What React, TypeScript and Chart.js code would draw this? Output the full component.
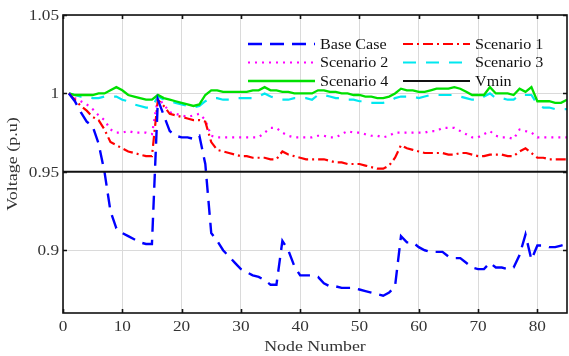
import React, { useEffect, useRef } from "react";
import { Chart, registerables } from "chart.js";

Chart.register(...registerables);

const nodes: number[] = Array.from({ length: 85 }, (_, i) => i + 1);

const baseCase = [
  1.0, 0.995, 0.988, 0.982, 0.979, 0.968, 0.95, 0.925, 0.914, 0.911,
  0.909, 0.907, 0.905, 0.904, 0.904, 0.996, 0.986, 0.976, 0.973, 0.972,
  0.972, 0.971, 0.973, 0.955, 0.911, 0.906, 0.9, 0.896, 0.892, 0.888,
  0.886, 0.884, 0.883, 0.881, 0.878, 0.878, 0.906, 0.9, 0.89, 0.884,
  0.884, 0.884, 0.883, 0.879, 0.877, 0.877, 0.876, 0.876, 0.876, 0.875,
  0.874, 0.873, 0.872, 0.871, 0.873, 0.877, 0.909, 0.905, 0.905, 0.902,
  0.9, 0.899, 0.899, 0.899, 0.896, 0.895, 0.895, 0.892, 0.889, 0.888,
  0.888, 0.892, 0.889, 0.889, 0.888, 0.889, 0.897, 0.91, 0.894, 0.903,
  0.903, 0.902, 0.902, 0.903, 0.904,
];

const scenario1 = [
  1.0, 0.996, 0.992, 0.989, 0.985, 0.983, 0.977, 0.969, 0.967, 0.965,
  0.963, 0.962, 0.961, 0.96, 0.96, 0.996, 0.992, 0.987, 0.986, 0.985,
  0.984, 0.983, 0.983, 0.982, 0.969, 0.964, 0.963, 0.962, 0.961, 0.96,
  0.96, 0.959, 0.959, 0.959, 0.958, 0.958, 0.963, 0.961, 0.96, 0.959,
  0.958, 0.958, 0.958, 0.958, 0.957, 0.956, 0.956, 0.955, 0.955, 0.955,
  0.954, 0.953, 0.952, 0.952, 0.954, 0.959, 0.967, 0.965, 0.964, 0.963,
  0.962, 0.962, 0.962, 0.962, 0.961, 0.961, 0.962, 0.962, 0.961, 0.96,
  0.96, 0.961, 0.961, 0.961, 0.96, 0.96, 0.963, 0.965, 0.962, 0.959,
  0.959, 0.958, 0.958, 0.958, 0.958,
];

const scenario2 = [
  1.0, 0.997, 0.995, 0.993, 0.99, 0.986, 0.983, 0.977, 0.975, 0.975,
  0.976, 0.975, 0.975, 0.975, 0.974, 0.997, 0.993, 0.988, 0.987, 0.986,
  0.985, 0.986, 0.987, 0.983, 0.973, 0.972, 0.972, 0.972, 0.972, 0.972,
  0.972, 0.972, 0.972, 0.975, 0.978, 0.978, 0.975, 0.973, 0.972, 0.972,
  0.972, 0.972, 0.973, 0.973, 0.972, 0.972, 0.974, 0.976, 0.975, 0.975,
  0.974, 0.973, 0.973, 0.972, 0.973, 0.975, 0.975, 0.975, 0.975, 0.975,
  0.975, 0.976, 0.976, 0.978, 0.978, 0.978, 0.976, 0.974, 0.972, 0.972,
  0.974, 0.976, 0.973, 0.972, 0.972, 0.971, 0.977, 0.976, 0.975, 0.972,
  0.972, 0.972, 0.972, 0.972, 0.972,
];

const scenario3 = [
  1.0, 0.999, 0.998, 0.998, 0.997, 0.997, 0.998, 0.998, 0.998, 0.996,
  0.995, 0.993, 0.992, 0.991, 0.991, 0.998, 0.996, 0.995, 0.994, 0.993,
  0.992, 0.991, 0.992, 0.995, 0.997, 0.997, 0.996, 0.996, 0.997, 0.997,
  0.997, 0.997, 0.998, 1.0, 0.998, 0.997, 0.996, 0.996, 0.997, 0.997,
  0.997, 0.996, 0.999, 0.999, 0.998, 0.997, 0.997, 0.996, 0.996, 0.995,
  0.995, 0.994, 0.994, 0.994, 0.995, 0.997, 0.998, 0.998, 0.998, 0.997,
  0.998, 0.999, 0.999, 0.999, 0.999, 0.999, 0.998, 0.997, 0.996, 0.996,
  0.998, 1.0, 0.997, 0.997, 0.996, 0.996, 0.999, 0.999, 0.999, 0.993,
  0.991, 0.991, 0.99, 0.99, 0.99,
];

const scenario4 = [
  1.0, 0.999, 0.999, 0.999, 0.999, 1.0, 1.0, 1.002, 1.004, 1.002,
  0.999, 0.998, 0.997, 0.996, 0.996, 0.999, 0.997, 0.996, 0.995, 0.994,
  0.993, 0.992, 0.993, 0.999, 1.002, 1.002, 1.001, 1.001, 1.001, 1.001,
  1.001, 1.002, 1.002, 1.004, 1.002, 1.002, 1.001, 1.001, 1.0, 1.0,
  1.0, 1.0, 1.002, 1.002, 1.001, 1.001, 1.0, 1.0, 0.999, 0.999,
  0.998, 0.998, 0.997, 0.997, 0.998, 1.0, 1.003, 1.002, 1.002, 1.001,
  1.001, 1.002, 1.003, 1.003, 1.003, 1.004, 1.003, 1.001, 0.999, 0.999,
  0.999, 1.004, 1.0, 1.0, 1.0, 0.999, 1.003, 1.001, 1.004, 0.995,
  0.995, 0.995, 0.994, 0.994, 0.996,
];

const vminLevel = 0.95;
const vminSpan = [0, 85];

const xTicks = [0, 10, 20, 30, 40, 50, 60, 70, 80];
const yTicks = [0.9, 0.95, 1, 1.05];
const xTitle = "Node Number";
const yTitle = "Voltage (p.u)";

const FONT = "'Liberation Serif', 'Times New Roman', serif";

const toPoints = (vals: number[]) => vals.map((v, i) => ({ x: nodes[i], y: v }));

function wideText(
  ctx: CanvasRenderingContext2D,
  text: string,
  x: number,
  y: number,
  align: CanvasTextAlign,
  size: number,
  sx: number,
  color: string,
  rot = 0
) {
  ctx.save();
  ctx.translate(x, y);
  if (rot) ctx.rotate(rot);
  ctx.scale(sx, 1);
  ctx.font = `${size}px ${FONT}`;
  ctx.fillStyle = color;
  ctx.textAlign = align;
  ctx.textBaseline = "alphabetic";
  ctx.fillText(text, 0, 0);
  ctx.restore();
}

const framePlugin = {
  id: "frameTicks",
  afterDraw(chart: any) {
    const { ctx, chartArea, scales } = chart;
    const { left, right, top, bottom } = chartArea;
    const xs = scales.x;
    const ys = scales.y;
    ctx.save();
    ctx.strokeStyle = "#111";
    ctx.lineWidth = 1.6;
    ctx.setLineDash([]);
    ctx.strokeRect(left, top, right - left, bottom - top);
    ctx.beginPath();
    const tl = 4;
    for (const t of xTicks) {
      const px = Math.round(xs.getPixelForValue(t)) + 0.5;
      ctx.moveTo(px, bottom);
      ctx.lineTo(px, bottom - tl);
      ctx.moveTo(px, top);
      ctx.lineTo(px, top + tl);
    }
    for (const t of yTicks) {
      const py = Math.round(ys.getPixelForValue(t)) + 0.5;
      ctx.moveTo(left, py);
      ctx.lineTo(left + tl, py);
      ctx.moveTo(right, py);
      ctx.lineTo(right - tl, py);
    }
    ctx.stroke();
    ctx.restore();

    const tc = "#333";
    for (const t of xTicks) {
      wideText(ctx, String(t), xs.getPixelForValue(t), 330.5, "center", 15, 1.15, tc);
    }
    for (const t of yTicks) {
      wideText(ctx, String(t), 59, ys.getPixelForValue(t) + 5, "right", 15, 1.15, tc);
    }
    wideText(ctx, xTitle, (left + right) / 2, 350.5, "center", 15, 1.19, tc);
    wideText(ctx, yTitle, 17, (top + bottom) / 2, "center", 15, 1.2, tc, -Math.PI / 2);
  },
};

const legendPlugin = {
  id: "innerLegend",
  afterDraw(chart: any) {
    const { ctx } = chart;
    const ds = chart.data.datasets;
    const layout = [
      { i: 0, x: 248, y: 44 },
      { i: 1, x: 403, y: 44 },
      { i: 2, x: 248, y: 62.5 },
      { i: 3, x: 403, y: 62.5 },
      { i: 4, x: 248, y: 81 },
      { i: 5, x: 403, y: 81 },
    ];
    ctx.save();
    for (const item of layout) {
      const d = ds[item.i];
      ctx.beginPath();
      ctx.strokeStyle = d.borderColor;
      ctx.lineWidth = d.borderWidth;
      ctx.setLineDash(d.borderDash || []);
      ctx.moveTo(item.x, item.y);
      ctx.lineTo(item.x + 67, item.y);
      ctx.stroke();
      ctx.setLineDash([]);
      wideText(ctx, d.label, item.x + 72, item.y + 4.5, "left", 14, 1.15, "#111");
    }
    ctx.restore();
  },
};

export default function App() {
  const ref = useRef<HTMLCanvasElement | null>(null);

  useEffect(() => {
    if (!ref.current) return;
    const chart = new Chart(ref.current, {
      type: "line",
      data: {
        datasets: [
          {
            label: "Base Case",
            data: toPoints(baseCase),
            borderColor: "#0000ff",
            borderWidth: 2.4,
            borderDash: [14, 8],
            pointRadius: 0,
            tension: 0,
            order: 1,
          },
          {
            label: "Scenario 1",
            data: toPoints(scenario1),
            borderColor: "#ff0000",
            borderWidth: 2.2,
            borderDash: [10, 4, 2, 4],
            pointRadius: 0,
            tension: 0,
            order: 2,
          },
          {
            label: "Scenario 2",
            data: toPoints(scenario2),
            borderColor: "#ff00ff",
            borderWidth: 2.2,
            borderDash: [2, 5],
            pointRadius: 0,
            tension: 0,
            order: 3,
          },
          {
            label: "Scenario 3",
            data: toPoints(scenario3),
            borderColor: "#00e8f0",
            borderWidth: 2.2,
            borderDash: [13, 10],
            pointRadius: 0,
            tension: 0,
            order: 5,
          },
          {
            label: "Scenario 4",
            data: toPoints(scenario4),
            borderColor: "#00e000",
            borderWidth: 2.3,
            pointRadius: 0,
            tension: 0,
            order: 4,
          },
          {
            label: "Vmin",
            data: vminSpan.map((x) => ({ x, y: vminLevel })),
            borderColor: "#111111",
            borderWidth: 2,
            pointRadius: 0,
            tension: 0,
            order: 0,
          },
        ],
      },
      options: {
        responsive: false,
        animation: false,
        events: [],
        layout: { padding: { top: 15, right: 2, left: 0, bottom: 0 } },
        plugins: {
          legend: { display: false },
          tooltip: { enabled: false },
          title: { display: false },
        },
        scales: {
          x: {
            type: "linear",
            min: 0,
            max: 85,
            afterBuildTicks: (s: any) => {
              s.ticks = xTicks.map((v) => ({ value: v }));
            },
            afterFit: (s: any) => {
              s.height = 43;
            },
            grid: { color: "#dadada", lineWidth: 1, drawTicks: false },
            border: { display: false },
            ticks: { display: false, autoSkip: false },
            title: { display: false },
          },
          y: {
            type: "linear",
            min: 0.86,
            max: 1.05,
            afterBuildTicks: (s: any) => {
              s.ticks = yTicks.map((v) => ({ value: v }));
            },
            afterFit: (s: any) => {
              s.width = 63;
            },
            grid: { color: "#dadada", lineWidth: 1, drawTicks: false },
            border: { display: false },
            ticks: { display: false, autoSkip: false },
            title: { display: false },
          },
        },
      },
      plugins: [framePlugin, legendPlugin],
    } as any);
    return () => chart.destroy();
  }, []);

  return (
    <div style={{ position: "fixed", left: 0, top: 0, width: 569, height: 356, background: "#fff" }}>
      <canvas ref={ref} width={569} height={356} />
    </div>
  );
}
